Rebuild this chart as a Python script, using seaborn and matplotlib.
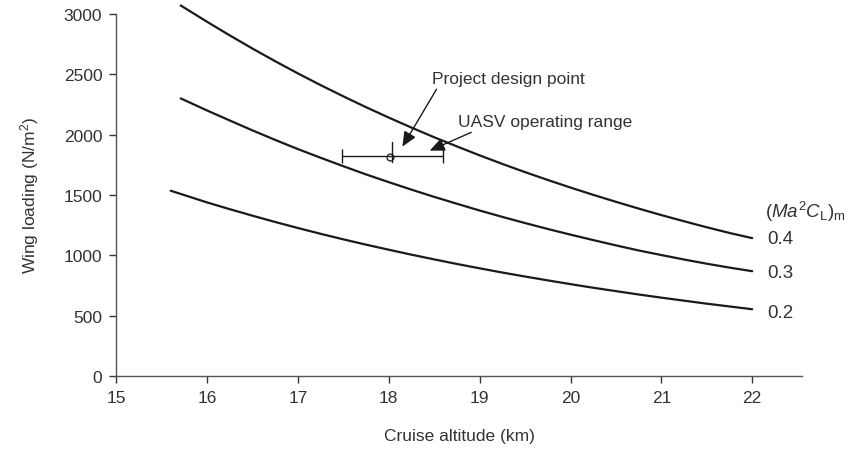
import numpy as np
import pandas as pd
import matplotlib
matplotlib.use("Agg")
import matplotlib.pyplot as plt
import seaborn as sns

# Wing loading curves (altitude in km, wing loading in N/m^2)
alt_04 = [15.71, 16.0, 16.25, 16.5, 16.75, 17.0, 17.25, 17.5, 17.75, 18.0, 18.25, 18.5, 18.75,
          19.0, 19.25, 19.5, 19.75, 20.0, 20.25, 20.5, 20.75, 21.0, 21.25, 21.5, 21.75, 22.0]
wl_04 = [3070, 2935, 2822, 2713, 2608, 2507, 2410, 2317, 2227, 2141, 2058, 1978, 1902,
         1828, 1757, 1689, 1624, 1561, 1501, 1443, 1387, 1333, 1282, 1232, 1185, 1142]

alt_03 = [15.71, 16.0, 16.25, 16.5, 16.75, 17.0, 17.25, 17.5, 17.75, 18.0, 18.25, 18.5, 18.75,
          19.0, 19.25, 19.5, 19.75, 20.0, 20.25, 20.5, 20.75, 21.0, 21.25, 21.5, 21.75, 22.0]
wl_03 = [2300, 2200, 2117, 2035, 1956, 1880, 1808, 1738, 1670, 1606, 1544, 1484, 1427,
         1371, 1318, 1267, 1218, 1171, 1126, 1082, 1040, 1002, 965, 930, 898, 868]

alt_02 = [15.6, 16.0, 16.25, 16.5, 16.75, 17.0, 17.25, 17.5, 17.75, 18.0, 18.25, 18.5, 18.75,
          19.0, 19.25, 19.5, 19.75, 20.0, 20.25, 20.5, 20.75, 21.0, 21.25, 21.5, 21.75, 22.0]
wl_02 = [1535, 1438, 1382, 1328, 1276, 1226, 1178, 1132, 1088, 1046, 1005, 966, 928,
         892, 857, 824, 792, 761, 731, 703, 675, 649, 624, 599, 576, 553]

curve_names = ["0.4", "0.3", "0.2"]
label_y = [1140, 860, 530]

# operating range and design point
range_alt = [17.48, 18.60]
range_wl = 1826
design_alt = 18.04
design_wl = 1826

x_ticks = [15, 16, 17, 18, 19, 20, 21, 22]
y_ticks = [0, 500, 1000, 1500, 2000, 2500, 3000]

df = pd.concat([
    pd.DataFrame({"alt": alt_04, "wl": wl_04, "curve": "0.4"}),
    pd.DataFrame({"alt": alt_03, "wl": wl_03, "curve": "0.3"}),
    pd.DataFrame({"alt": alt_02, "wl": wl_02, "curve": "0.2"}),
])

sns.set_style("ticks")
plt.rcParams["font.family"] = ["Liberation Sans", "DejaVu Sans"]
plt.rcParams["mathtext.fontset"] = "custom"
plt.rcParams["mathtext.rm"] = "Liberation Sans"
plt.rcParams["mathtext.it"] = "Liberation Sans:italic"

text_col = "#333333"
line_col = "#1a1a1a"
fs = 12.5

fig = plt.figure(figsize=(8.48, 4.52), dpi=100)
ax = fig.add_axes([0.137, 0.166, 0.809, 0.801])

sns.lineplot(data=df, x="alt", y="wl", hue="curve", palette=[line_col] * 3,
             linewidth=1.6, legend=False, sort=False, ax=ax, estimator=None)
for ln in ax.get_lines():
    ln.set_clip_on(False)

# operating range bar
mid = np.mean(range_alt)
ax.errorbar([mid], [range_wl], xerr=[[mid - range_alt[0]], [range_alt[1] - mid]],
            fmt="none", ecolor=line_col, elinewidth=1.0, capsize=5, capthick=1.0)
ax.plot([design_alt, design_alt], [design_wl - 50, design_wl + 110], color=line_col, lw=1.0)
ax.plot([design_alt - 0.03], [design_wl - 10], marker="o", ms=5, mfc="none", mec=line_col, mew=0.9)

arrow = dict(arrowstyle="-|>,head_length=0.5,head_width=0.22", color=line_col, lw=1.0,
             shrinkA=0, shrinkB=0, mutation_scale=18)
ax.annotate("Project design point", xy=(18.15, 1900), xytext=(18.48, 2465),
            fontsize=fs, color=text_col, va="center", ha="left",
            arrowprops=dict(arrow, relpos=(0.04, 0.0)))
ax.annotate("UASV operating range", xy=(18.45, 1867), xytext=(18.76, 2108),
            fontsize=fs, color=text_col, va="center", ha="left",
            arrowprops=dict(arrow, relpos=(0.12, 0.0)))

# curve labels
ax.text(22.14, 1369, r"$(\mathit{Ma}^2\mathit{C}_\mathrm{L})_\mathrm{m}$", fontsize=13.5,
        color=text_col, va="center", ha="left", clip_on=False)
for name, y in zip(curve_names, label_y):
    ax.text(22.17, y, name, fontsize=13.5, color=text_col, va="center", ha="left", clip_on=False)

ax.set_xlim(15, 22.55)
ax.set_ylim(0, 3000)
ax.set_xticks(x_ticks)
ax.set_yticks(y_ticks)
ax.set_xlabel("Cruise altitude (km)", fontsize=fs, color=text_col, labelpad=17)
ax.set_ylabel("Wing loading (N/m$^2$)", fontsize=fs, color=text_col, labelpad=16)
ax.tick_params(axis="both", labelsize=fs, colors=text_col, length=5, width=1.0, pad=5)
sns.despine(ax=ax)
for s in ["left", "bottom"]:
    ax.spines[s].set_color("#555555")
    ax.spines[s].set_linewidth(1.0)

fig.savefig("out.png", dpi=100)
